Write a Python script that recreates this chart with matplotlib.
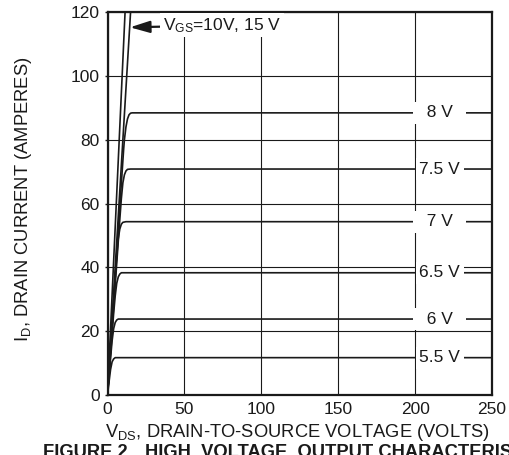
import matplotlib
matplotlib.use('Agg')
import matplotlib.pyplot as plt

plt.rcParams['font.family'] = ['Liberation Sans', 'DejaVu Sans']
plt.rcParams['mathtext.fontset'] = 'custom'
plt.rcParams['mathtext.rm'] = 'Liberation Sans'

# ---------------- data ----------------
vds_15V = [0, 12]
id_15V = [0, 126]
vds_10V = [0, 16]
id_10V = [0, 128]

vds_8V = [0, 4, 8, 10.5, 11, 12, 13, 14, 15, 16, 250]
id_8V = [0, 29.5, 59, 77, 80, 84, 86.5, 87.8, 88.3, 88.4, 88.4]

vds_7_5V = [0, 4, 8, 9, 10, 11, 12, 13, 15, 250]
id_7_5V = [0, 27.5, 55, 61.5, 66.5, 69, 70.2, 70.7, 70.8, 70.8]

vds_7V = [0, 5, 6, 7, 8, 9, 10, 12, 250]
id_7V = [0, 36.5, 43.5, 49, 52, 53.5, 54.1, 54.3, 54.3]

vds_6_5V = [0, 4, 5, 6, 7, 8, 9, 250]
id_6_5V = [0, 25.6, 31, 35, 37, 37.9, 38.3, 38.3]

vds_6V = [0, 2, 3, 4, 5, 6, 7, 250]
id_6V = [0, 11.6, 17, 20.8, 22.7, 23.5, 23.8, 23.8]

vds_5_5V = [0, 1, 2, 3, 4, 5, 250]
id_5_5V = [0, 4.1, 8, 10.4, 11.3, 11.7, 11.7]

curve_labels = ['  8 V  ', '7.5 V', '  7 V  ', '6.5 V', '  6 V  ', '5.5 V']
curve_levels = [88.4, 70.8, 54.3, 38.3, 23.8, 11.7]
label_vds = 216

x_ticks = [0, 50, 100, 150, 200, 250]
y_ticks = [0, 20, 40, 60, 80, 100, 120]

# ---------------- figure ----------------
fig = plt.figure(figsize=(5.09, 4.55), dpi=100)
ax = fig.add_axes([107.5 / 509, 1 - 395 / 455, (492 - 107.5) / 509, (395 - 12) / 455])

FS = 12.5
FS_LAB = 13.2
INK = '#1a1a1a'
lw_curve = 1.2

curves = [(vds_15V, id_15V), (vds_10V, id_10V), (vds_8V, id_8V), (vds_7_5V, id_7_5V),
          (vds_7V, id_7V), (vds_6_5V, id_6_5V), (vds_6V, id_6V), (vds_5_5V, id_5_5V)]
for v, i in curves:
    ax.plot(v, i, color=INK, lw=lw_curve, zorder=3, solid_capstyle='butt')

ax.set_xlim(0, 250)
ax.set_ylim(0, 120)
ax.set_xticks(x_ticks)
ax.set_yticks(y_ticks)
ax.grid(True, color=INK, lw=0.8, zorder=1)
ax.set_axisbelow(True)
for s in ax.spines.values():
    s.set_linewidth(1.6)
    s.set_color(INK)
    s.set_zorder(5)
ax.tick_params(axis='x', length=0, pad=5, labelsize=FS, colors=INK)
ax.tick_params(axis='y', length=2.5, width=1, pad=3, labelsize=FS, colors=INK)

for lab, lev in zip(curve_labels, curve_levels):
    ax.text(label_vds, lev, lab, ha='center', va='center', fontsize=FS, color=INK,
            zorder=4, bbox=dict(boxstyle='square,pad=0.2', fc='white', ec='none'))

ax.annotate(r'$\mathregular{V_{GS}}$=10V, 15 V', xy=(14.6, 115.2), xytext=(36, 115.8),
            ha='left', va='center', fontsize=FS, color=INK, zorder=6,
            bbox=dict(boxstyle='square,pad=0.15', fc='white', ec='none'),
            arrowprops=dict(arrowstyle='-|>,head_length=0.6,head_width=0.18', mutation_scale=20,
                            color=INK, lw=1.6, shrinkA=0, shrinkB=0))

ax.set_xlabel(r'$\mathregular{V_{DS}}$, DRAIN-TO-SOURCE VOLTAGE (VOLTS)', fontsize=FS_LAB, color=INK)
ax.xaxis.set_label_coords(0.493, -0.07)
ax.set_ylabel(r'$\mathregular{I_{D}}$, DRAIN CURRENT (AMPERES)', fontsize=FS_LAB, color=INK)
ax.yaxis.set_label_coords(-0.19, 0.51)

fig.text(43 / 509, 1 - 444 / 455, 'FIGURE 2', ha='left', va='top', fontsize=FS_LAB,
         fontweight='bold', color=INK)
fig.text(145 / 509, 1 - 444 / 455, 'HIGH  VOLTAGE  OUTPUT CHARACTERISTICS', ha='left', va='top',
         fontsize=FS_LAB, fontweight='bold', color=INK)

fig.savefig('out.png', dpi=100)
